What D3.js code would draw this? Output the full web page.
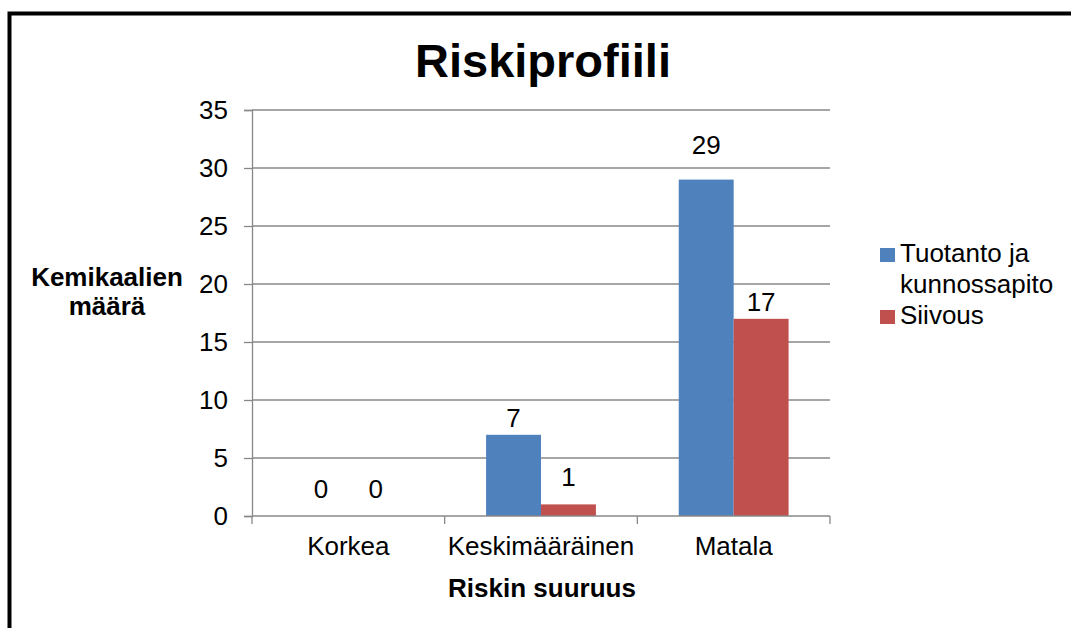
<!DOCTYPE html>
<html>
<head>
<meta charset="utf-8">
<script src="https://cdn.jsdelivr.net/npm/d3@7"></script>
<style>
  html, body { margin: 0; padding: 0; background: #fff; }
  svg { display: block; font-family: "Liberation Sans", Arial, sans-serif; }
</style>
</head>
<body>
<svg id="chart" width="1071" height="628"></svg>
<script>
// Risk categories and chemical counts per department
const categories = ["Korkea", "Keskimääräinen", "Matala"];
const seriesNames = ["Tuotanto ja kunnossapito", "Siivous"];
const tuotanto = [0, 7, 29];
const siivous = [0, 1, 17];
const yTicks = [0, 5, 10, 15, 20, 25, 30, 35];

const colors = ["#4F81BD", "#C0504D"];
const series = [tuotanto, siivous];

const svg = d3.select("#chart");
const W = 1071, H = 628;
const plot = { left: 252, right: 830, top: 110, bottom: 516 };
const fs = 26;

// outer frame (only top and left edges fall inside the canvas)
svg.append("rect")
  .attr("x", 9.5).attr("y", 13.5)
  .attr("width", W + 20).attr("height", H + 20)
  .attr("fill", "#fff").attr("stroke", "#000").attr("stroke-width", 4);

const x = d3.scaleBand().domain(categories).range([plot.left, plot.right]).padding(0);
const groupFrac = 0.57;
const xs = d3.scaleBand().domain(d3.range(series.length))
  .range([0, x.bandwidth() * groupFrac]).padding(0);
const groupOffset = x.bandwidth() * (1 - groupFrac) / 2;
const y = d3.scaleLinear().domain([0, 35]).range([plot.bottom, plot.top]);

// title
svg.append("text")
  .attr("x", 543).attr("y", 77)
  .attr("text-anchor", "middle")
  .attr("font-size", 47).attr("font-weight", "bold")
  .text("Riskiprofiili");

// horizontal gridlines
svg.append("g").selectAll("line")
  .data(yTicks.filter(d => d > 0))
  .join("line")
  .attr("x1", plot.left).attr("x2", plot.right)
  .attr("y1", d => y(d)).attr("y2", d => y(d))
  .attr("stroke", "#888").attr("stroke-width", 1.3);

// y axis
const yAxis = svg.append("g")
  .attr("transform", `translate(${plot.left},0)`)
  .call(d3.axisLeft(y).tickValues(yTicks).tickSize(8).tickPadding(16));
yAxis.select(".domain").attr("stroke", "#888").attr("stroke-width", 1.3);
yAxis.selectAll(".tick line").attr("stroke", "#888").attr("stroke-width", 1.3);
yAxis.selectAll(".tick text")
  .attr("font-size", fs).attr("fill", "#000")
  .attr("font-family", "Liberation Sans, Arial, sans-serif");

// bars
const groups = svg.append("g").selectAll("g")
  .data(categories)
  .join("g")
  .attr("transform", c => `translate(${x(c) + groupOffset},0)`);

groups.selectAll("rect")
  .data((c, i) => series.map((s, k) => ({ k, v: s[i] })))
  .join("rect")
  .attr("x", d => xs(d.k))
  .attr("width", xs.bandwidth())
  .attr("y", d => y(d.v))
  .attr("height", d => y(0) - y(d.v))
  .attr("fill", d => colors[d.k]);

// value labels (a few sit higher, as placed in the original layout)
const labelLift = { "0-0": 18, "0-1": 18, "1-0": 8, "1-1": 18, "2-0": 26, "2-1": 8 };
groups.selectAll("text")
  .data((c, i) => series.map((s, k) => ({ k, v: s[i], key: `${i}-${k}` })))
  .join("text")
  .attr("x", d => xs(d.k) + xs.bandwidth() / 2)
  .attr("y", d => y(d.v) - labelLift[d.key])
  .attr("text-anchor", "middle")
  .attr("font-size", fs)
  .text(d => d.v);

// x axis
const xAxis = svg.append("g")
  .attr("transform", `translate(0,${plot.bottom})`);
xAxis.append("line")
  .attr("x1", plot.left).attr("x2", plot.right)
  .attr("stroke", "#888").attr("stroke-width", 1.3);
const bounds = categories.map(c => x(c)).concat([x(categories[categories.length - 1]) + x.bandwidth()]);
xAxis.selectAll("line.tk")
  .data(bounds)
  .join("line").attr("class", "tk")
  .attr("x1", d => d).attr("x2", d => d)
  .attr("y1", 0).attr("y2", 8)
  .attr("stroke", "#888").attr("stroke-width", 1.3);
xAxis.selectAll("text")
  .data(categories)
  .join("text")
  .attr("x", c => x(c) + x.bandwidth() / 2)
  .attr("y", 39)
  .attr("text-anchor", "middle")
  .attr("font-size", fs)
  .text(c => c);

// axis titles
svg.append("text")
  .attr("x", 542).attr("y", 597)
  .attr("text-anchor", "middle")
  .attr("font-size", fs).attr("font-weight", "bold")
  .text("Riskin suuruus");

const yTitle = svg.append("text")
  .attr("text-anchor", "middle")
  .attr("font-size", fs).attr("font-weight", "bold");
yTitle.append("tspan").attr("x", 107).attr("y", 286).text("Kemikaalien");
yTitle.append("tspan").attr("x", 107).attr("y", 315).text("määrä");

// legend
const legendLines = [["Tuotanto ja", "kunnossapito"], ["Siivous"]];
let baseline = 262;
seriesNames.forEach((name, k) => {
  const g = svg.append("g");
  g.append("rect")
    .attr("x", 880).attr("y", baseline - 14)
    .attr("width", 15).attr("height", 14)
    .attr("fill", colors[k]);
  const t = g.append("text").attr("font-size", fs);
  legendLines[k].forEach((line, j) => {
    t.append("tspan").attr("x", 900).attr("y", baseline + j * 31).text(line);
  });
  baseline += legendLines[k].length * 31;
});
</script>
</body>
</html>
